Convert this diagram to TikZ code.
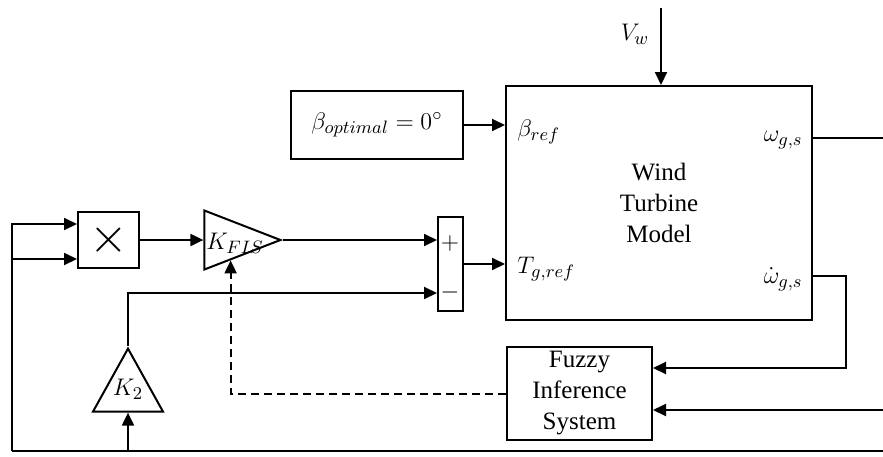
\documentclass[tikz,border=0pt]{standalone}
\usepackage{fontspec}
\setmainfont{Liberation Serif}
\usetikzlibrary{arrows.meta, shapes.geometric, calc}

\tikzset{
  blk/.style={draw, line width=1pt, inner sep=0pt, align=center},
  gain/.style={draw, line width=1pt, isosceles triangle, isosceles triangle stretches, inner sep=0pt},
  sig/.style={line width=1pt, -{Triangle[length=6.5pt,width=6pt]}},
  wire/.style={line width=1pt},
  lbl/.style={inner sep=0pt},
}

\begin{document}
\begin{tikzpicture}[x=0.5pt, y=-0.5pt, font=\fontsize{12.5}{15.5}\selectfont]
    \useasboundingbox (0,0) rectangle (883,456);

    \coordinate (vw) at (661,8);
    \coordinate (omegaout) at (883,138);
    \coordinate (fisin) at (883,410);
    \coordinate (fbbot) at (883,451);
    \coordinate (lft) at (12,451);

    \node[blk, minimum width=153pt, minimum height=117pt] (wt) at (659,203) {Wind\\Turbine\\Model};
    \node[blk, minimum width=86pt, minimum height=34pt] (bopt) at (377,125) {$\beta_{optimal} = 0^{\circ}$};
    \node[blk, minimum width=30.5pt, minimum height=28pt] (mult) at (108.5,240) {\fontsize{24}{24}\selectfont$\times$};
    \node[blk, minimum width=12.5pt, minimum height=47pt] (sum) at (450.5,264) {};
    \node[blk, minimum width=72.5pt, minimum height=46.5pt] (fis) at (579.5,393.5) {Fuzzy\\Inference\\System};
    \node[gain, shape border rotate=0, minimum width=29.5pt, minimum height=38pt, anchor=apex] (kfis) at (283,240) {};
    \node[gain, shape border rotate=90, minimum width=35pt, minimum height=31.5pt, anchor=apex] (k2) at (128,346) {};

    % labels
    \node[lbl] (kfistxt) at (235,243) {$K_{FIS}$};
    \node[lbl] (k2txt) at (128,389) {$K_2$};
    \node[lbl] (plus) at (450,243) {$+$};
    \node[lbl] (minus) at (450,292) {$-$};
    \node[lbl] (vwtxt) at (635,34) {$V_w$};
    \node[lbl, anchor=west] (bref) at (517,132) {$\beta_{ref}$};
    \node[lbl, anchor=west] (tref) at (517,269) {$T_{g,ref}$};
    \node[lbl, anchor=east] (wgs) at (803,140) {$\omega_{g,s}$};
    \node[lbl, anchor=east] (dwgs) at (803,279) {$\dot{\omega}_{g,s}$};

    \draw[sig] (vw) -- (vw |- wt.north);
    \draw[sig] (bopt.east) -- (bopt.east -| wt.west);
    \draw[sig] (sum.east) -- (sum.east -| wt.west);
    \draw[wire] (wt.east |- omegaout) -- (omegaout);
    \draw[sig] ([yshift=-36.5pt]wt.east) -- ++(16.5pt,0) |- ([yshift=12.75pt]fis.east);
    \draw[sig] (fisin) -- (fisin -| fis.east);
    \draw[wire] (fbbot) -- (lft);
    \draw[sig] (lft) |- ([yshift=8pt]mult.west);
    \draw[sig] (lft) |- ([yshift=-9.5pt]mult.west);
    \draw[sig] (mult.east) -- (kfis.lower side);
    \draw[sig] (kfis.apex) -- (kfis.apex -| sum.west);
    \draw[sig] (k2.lower side |- lft) -- (k2.lower side);
    \draw[sig] (k2.apex) |- ([yshift=-14.5pt]sum.west);
    \draw[sig, dash pattern=on 4pt off 2.5pt] (fis.west) -| ($(kfis.right corner)!0.342!(kfis.apex)$);
    %\draw[red] (0,0) grid[step=50] (883,456);
\end{tikzpicture}
\end{document}
